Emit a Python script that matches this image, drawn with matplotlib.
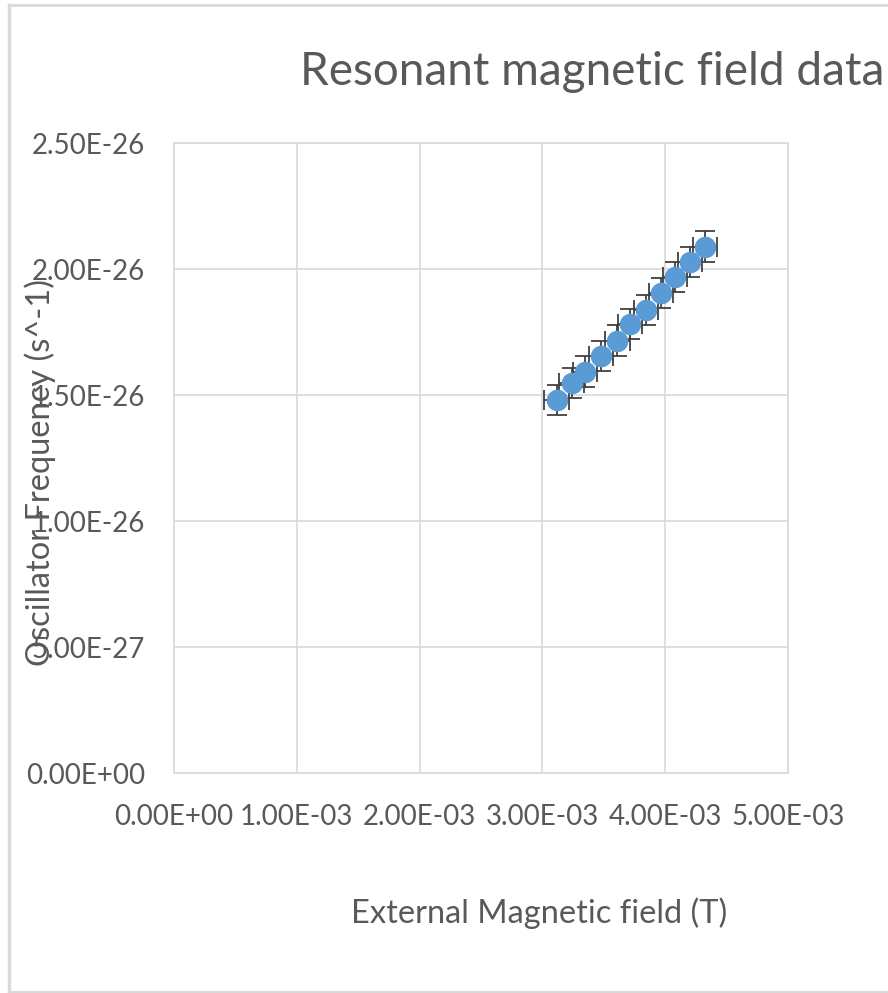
import matplotlib.pyplot as plt
from matplotlib.lines import Line2D

# Data
field_T = [3.116e-3, 3.239e-3, 3.347e-3, 3.477e-3, 3.610e-3, 3.713e-3,
           3.844e-3, 3.966e-3, 4.080e-3, 4.202e-3, 4.324e-3]
frequency = [1.480e-26, 1.549e-26, 1.593e-26, 1.655e-26, 1.716e-26, 1.782e-26,
             1.837e-26, 1.904e-26, 1.967e-26, 2.029e-26, 2.089e-26]
field_err = 0.1e-3
freq_err = 0.06e-26

x_ticks = [0, 1e-3, 2e-3, 3e-3, 4e-3, 5e-3]
y_ticks = [0, 5e-27, 1e-26, 1.5e-26, 2e-26, 2.5e-26]

plt.rcParams['font.family'] = ['Lato', 'DejaVu Sans']
grey_text = '#595959'
grid_col = '#d9d9d9'

fig = plt.figure(figsize=(8.88, 9.93), dpi=100)
ax = fig.add_axes([174 / 888, 1 - 773 / 993, (788 - 174) / 888, (773 - 143) / 993])

# Error bars and markers
ax.errorbar(field_T, frequency, xerr=field_err, yerr=freq_err, fmt='o',
            color='#5B9BD5', markersize=14.5, ecolor='#404040',
            elinewidth=1.3, capsize=7, capthick=1.3, zorder=3)

ax.set_xlim(0, 5e-3)
ax.set_ylim(0, 2.5e-26)
ax.set_xticks(x_ticks)
ax.set_yticks(y_ticks)
ax.set_xticklabels([f"{v:.2E}" for v in x_ticks])
ax.set_yticklabels([f"{v:.2E}" for v in y_ticks])
ax.tick_params(length=0, labelsize=20, colors=grey_text)
ax.tick_params(axis='y', pad=21)
ax.tick_params(axis='x', pad=22)
ax.grid(True, color=grid_col, linewidth=1.2)
ax.set_axisbelow(True)
for s in ax.spines.values():
    s.set_color(grid_col)
    s.set_linewidth(1.2)

# Title and axis labels placed like the Excel layout
fig.text(592 / 888, 1 - 72 / 993, "Resonant magnetic field data", ha='center',
         va='center', fontsize=33, color=grey_text)
fig.text(539 / 888, 1 - 913 / 993, "External Magnetic field (T)", ha='center',
         va='center', fontsize=23.5, color=grey_text)
fig.text(40 / 888, 1 - 472 / 993, "Oscillator Frequency (s^-1)", ha='center',
         va='center', rotation=90, fontsize=23.5, color=grey_text)

# Chart border
fig.add_artist(Line2D([9 / 888, 9 / 888], [1 - 5 / 993, 1 - 992 / 993],
                      transform=fig.transFigure, color=grid_col, linewidth=2.5))
fig.add_artist(Line2D([9 / 888, 1], [1 - 5 / 993, 1 - 5 / 993],
                      transform=fig.transFigure, color=grid_col, linewidth=2))
fig.add_artist(Line2D([9 / 888, 1], [1 - 992 / 993, 1 - 992 / 993],
                      transform=fig.transFigure, color=grid_col, linewidth=1.5))

plt.savefig("out.png", dpi=100)
